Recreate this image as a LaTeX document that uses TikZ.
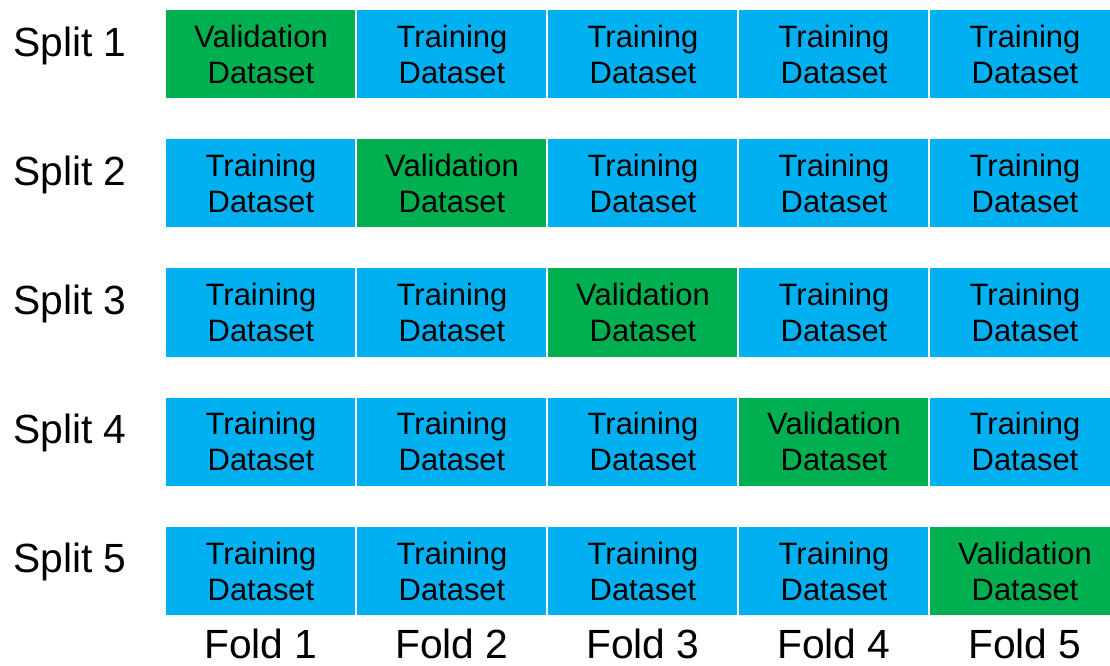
\documentclass[tikz,border=0pt]{standalone}
\usepackage{fontspec}
\setmainfont{Liberation Sans}
\usepackage{tikz}
\usetikzlibrary{positioning}
\definecolor{trainblue}{HTML}{00B0F0}
\definecolor{validgreen}{HTML}{00B050}

\begin{document}
\begin{tikzpicture}[
  cell/.style={draw=white, line width=2pt, minimum width=4.8cm, minimum height=2.28cm, align=center, inner sep=0pt, font=\fontsize{22}{25.6}\selectfont},
  train/.style={cell, fill=trainblue},
  valid/.style={cell, fill=validgreen},
  lab/.style={font=\fontsize{29}{34}\selectfont, anchor=base}]
\useasboundingbox (0,0) rectangle (27.75,-16.625);
\foreach \r in {1,...,5} {
  \node[lab] (s\r) at (1.75,{-1.4-3.231*(\r-1)}) {Split \r};
  \foreach \c in {1,...,5} {
    \ifnum\r=\c
      \node[valid] (c\r\c) at ({6.525+4.775*(\c-1)},{-1.35-3.231*(\r-1)}) {Validation\\Dataset};
    \else
      \node[train] (c\r\c) at ({6.525+4.775*(\c-1)},{-1.35-3.231*(\r-1)}) {Training\\Dataset};
    \fi
  }
}
\foreach \c in {1,...,5}
  \node[lab] (f\c) at ({6.525+4.775*(\c-1)},-16.45) {Fold \c};
\end{tikzpicture}
\end{document}
